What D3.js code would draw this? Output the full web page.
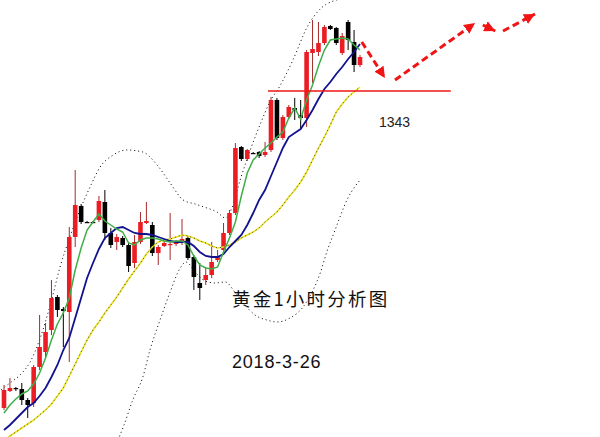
<!DOCTYPE html>
<html><head><meta charset="utf-8">
<script src="https://cdn.jsdelivr.net/npm/d3@7"></script>
<style>html,body{margin:0;padding:0;background:#fff;} svg{display:block}</style>
</head><body>
<svg id="chart" width="600" height="437"></svg>
<script>
// ---- data (hourly gold candles, prices) ----
const opens  = [1311.3,1313.0,1313.3,1313.2,1312.1,1311.8,1315.4,1316.9,1319.1,1322.4,1321.2,1320.9,1328.4,1331.5,1329.9,1329.9,1330.1,1331.9,1328.8,1327.9,1328.3,1327.6,1325.8,1327.9,1329.8,1329.6,1326.8,1327.5,1327.6,1327.7,1327.8,1328.3,1326.4,1323.8,1324.1,1324.6,1326.1,1327.1,1328.8,1330.8,1337.4,1336.2,1336.8,1336.9,1336.6,1337.1,1342.1,1338.3,1340.4,1341.3,1340.6,1340.3,1346.8,1346.9,1347.8,1349.5,1349.3,1346.8,1349.9,1347.9,1345.6];
const highs  = [1313.6,1314.3,1313.4,1313.8,1312.3,1315.6,1320.6,1319.8,1324.1,1322.6,1321.4,1329.4,1335.1,1331.7,1330.0,1330.0,1332.5,1333.1,1329.3,1328.7,1328.5,1327.8,1328.6,1330.9,1331.9,1329.9,1327.6,1328.0,1330.8,1328.1,1330.2,1328.5,1326.6,1325.8,1325.4,1327.9,1327.1,1329.8,1331.1,1337.8,1337.5,1337.2,1336.9,1337.0,1337.9,1342.4,1342.3,1340.6,1341.6,1342.3,1342.1,1347.1,1350.1,1349.9,1349.6,1349.6,1349.4,1348.8,1350.1,1349.1,1346.6];
const lows   = [1311.1,1312.9,1313.0,1311.6,1310.3,1311.4,1315.1,1316.3,1318.6,1320.4,1317.4,1315.9,1327.4,1329.7,1329.8,1329.8,1329.9,1328.1,1327.3,1327.1,1327.4,1324.9,1325.3,1327.7,1329.7,1326.5,1325.6,1327.4,1326.1,1327.5,1327.6,1326.1,1323.1,1322.1,1323.6,1324.3,1325.9,1326.9,1328.6,1330.6,1336.0,1336.0,1336.7,1336.3,1336.4,1336.9,1338.1,1338.1,1340.2,1340.1,1339.3,1339.4,1343.8,1346.5,1347.6,1349.1,1347.6,1346.6,1347.1,1344.9,1345.4];
const closes = [1313.1,1313.3,1313.2,1312.1,1311.6,1315.4,1317.4,1318.9,1322.3,1321.1,1321.0,1328.4,1331.6,1329.9,1329.9,1329.9,1332.0,1328.8,1327.6,1328.4,1327.6,1325.5,1327.9,1329.9,1330.0,1326.8,1327.4,1327.8,1327.7,1327.9,1328.2,1326.3,1324.4,1323.3,1324.6,1325.9,1326.4,1328.8,1330.8,1337.3,1336.2,1337.1,1336.8,1336.5,1336.9,1342.1,1338.3,1340.4,1341.4,1341.1,1340.3,1346.9,1347.2,1347.8,1349.4,1349.2,1347.8,1348.5,1348.1,1345.6,1346.4];

// moving averages (one value per candle)
const maFast = [1310.8,1311.6,1312.2,1312.7,1313.0,1313.7,1314.8,1316.3,1318.1,1319.7,1320.8,1322.3,1325.1,1327.3,1329.1,1329.9,1330.7,1330.0,1329.6,1329.2,1328.9,1327.8,1327.6,1328.1,1328.3,1328.3,1328.2,1328.0,1327.9,1328.0,1328.0,1327.6,1326.5,1325.6,1325.3,1325.2,1325.4,1326.9,1328.3,1329.9,1332.5,1334.8,1336.1,1336.7,1337.3,1337.8,1338.4,1338.9,1340.3,1341.3,1340.2,1342.1,1343.6,1345.5,1347.1,1348.1,1348.2,1348.3,1348.2,1347.6,1347.1];
const maMid  = [1309.1,1309.6,1310.2,1310.8,1311.4,1311.8,1312.5,1313.3,1314.4,1315.6,1317.1,1318.3,1320.3,1322.3,1324.3,1325.8,1327.2,1328.3,1328.8,1329.3,1329.4,1329.1,1328.8,1328.7,1328.7,1328.6,1328.4,1328.2,1328.0,1327.9,1327.9,1327.9,1327.5,1326.9,1326.5,1326.4,1326.4,1326.7,1327.4,1328.0,1328.6,1329.6,1330.8,1332.1,1333.1,1334.5,1335.9,1337.3,1338.4,1338.8,1339.2,1340.1,1341.1,1342.2,1343.2,1343.9,1344.7,1345.4,1346.2,1346.9,1347.7];
const maSlow = [1308.1,1308.5,1308.9,1309.3,1309.7,1310.1,1310.6,1311.1,1311.7,1312.5,1313.3,1314.5,1315.7,1316.9,1318.1,1319.1,1319.9,1320.8,1321.6,1322.4,1323.3,1324.2,1325.0,1325.8,1326.7,1327.4,1327.9,1328.1,1328.2,1328.4,1328.6,1328.5,1328.3,1328.0,1327.8,1327.5,1327.3,1327.4,1327.6,1327.9,1328.3,1328.6,1328.9,1329.3,1329.9,1330.4,1330.9,1331.6,1332.4,1333.1,1333.9,1334.9,1336.1,1337.3,1338.4,1339.6,1340.9,1341.7,1342.4,1342.9,1343.4];

// Bollinger bands (sampled along the candle index)
const upperX = [-1.0,1.0,2.7,4.4,6.1,7.8,9.4,11.1,12.8,14.5,16.2,18.4,20.7,23.4,25.8,28.0,30.2,32.2,34.2,35.9,37.3,38.4,39.8,41.5,43.2,44.8,46.5,48.7,51.1,53.3,55.5,58.3,60.9];
const upperY = [1312.9,1313.8,1314.6,1315.9,1318.3,1321.6,1325.3,1328.4,1331.1,1333.4,1335.4,1336.6,1337.1,1336.9,1335.6,1333.8,1332.1,1331.7,1331.3,1330.9,1330.3,1331.3,1334.1,1337.1,1339.7,1341.9,1343.5,1346.1,1349.4,1351.2,1352.0,1352.3,1352.3];
const lowerX = [19.2,20.1,21.7,23.4,24.6,26.3,28.0,29.7,30.7,32.2,33.9,35.6,37.3,38.9,40.6,42.3,44.3,46.0,48.2,50.4,52.1,53.3,54.4,55.8,57.8,60.0];
const lowerY = [1308.1,1309.4,1312.1,1314.4,1317.1,1320.1,1322.9,1325.3,1325.9,1324.9,1324.0,1323.8,1323.9,1322.9,1321.6,1320.6,1320.1,1319.9,1320.3,1321.4,1323.1,1324.8,1326.9,1329.1,1332.1,1334.1];

// annotations
const supportLevel = 1343;
const supportFrom = 44.5, supportTo = 75.3;
const arrowX = [[60.3,64.2],[65.9,79.4],[80.7,82.8],[84.1,89.5]];
const arrowY = [[1347.9,1344.3],[1344.1,1349.8],[1349.6,1349.0],[1349.0,1350.7]];
const titleText = "黄金1小时分析图";
const dateText = "2018-3-26";
const levelText = "1343";

// ---- drawing ----
const W = 600, H = 437;
const svg = d3.select("#chart");
const x = d3.scaleLinear().domain([0, 60]).range([4, 360]);
const y = d3.scaleLinear().domain([1308.4, 1352.1]).range([H, 0]);

const candles = opens.map((o, i) => ({i, o, h: highs[i], l: lows[i], c: closes[i]}));

// bands
const bandLine = d3.line().x(d => x(d[0])).y(d => y(d[1])).curve(d3.curveMonotoneX);
[[upperX, upperY], [lowerX, lowerY]].forEach(([xs, ys]) => {
  svg.append("path")
    .attr("d", bandLine(xs.map((v, k) => [v, ys[k]])))
    .attr("fill", "none").attr("stroke", "#000").attr("stroke-width", 1)
    .attr("stroke-dasharray", "1,3");
});

// candles
const bw = 4.6;
const g = svg.append("g");
g.selectAll("line.wick").data(candles).join("line")
  .attr("x1", d => x(d.i) ).attr("x2", d => x(d.i))
  .attr("y1", d => y(d.h)).attr("y2", d => y(d.l))
  .attr("stroke", d => d.c > d.o ? "#a52a2a" : "#000").attr("stroke-width", 1);
g.selectAll("rect.body").data(candles).join("rect")
  .attr("x", d => x(d.i) - bw / 2).attr("width", bw)
  .attr("y", d => y(Math.max(d.o, d.c)))
  .attr("height", d => Math.max(1.2, Math.abs(y(d.o) - y(d.c))))
  .attr("fill", d => d.c > d.o ? "#ec1c24" : "#000");

// moving averages
const maLine = d3.line().x((d, i) => x(i)).y(d => y(d));
svg.append("path").attr("d", maLine(maSlow)).attr("fill", "none")
  .attr("stroke", "#ece21e").attr("stroke-width", 1.6);
svg.append("path").attr("d", maLine(maSlow)).attr("fill", "none")
  .attr("stroke", "#333").attr("stroke-width", 0.9).attr("stroke-dasharray", "1,3");
svg.append("path").attr("d", maLine(maMid)).attr("fill", "none")
  .attr("stroke", "#12128f").attr("stroke-width", 1.8);
svg.append("path").attr("d", maLine(maFast)).attr("fill", "none")
  .attr("stroke", "#3fae49").attr("stroke-width", 1.5);

// support line
svg.append("line")
  .attr("x1", x(supportFrom)).attr("x2", x(supportTo))
  .attr("y1", y(supportLevel)).attr("y2", y(supportLevel))
  .attr("stroke", "#f01414").attr("stroke-width", 1.5);

// arrows
const defs = svg.append("defs");
defs.append("marker").attr("id", "ah").attr("markerUnits", "userSpaceOnUse")
  .attr("markerWidth", 12).attr("markerHeight", 11).attr("refX", 11).attr("refY", 5.5)
  .attr("orient", "auto")
  .append("path").attr("d", "M0,0 L11,5.5 L0,11 Z").attr("fill", "#f01414");
arrowX.forEach((ax, k) => {
  svg.append("line")
    .attr("x1", x(ax[0])).attr("y1", y(arrowY[k][0]))
    .attr("x2", x(ax[1])).attr("y2", y(arrowY[k][1]))
    .attr("stroke", "#f01414").attr("stroke-width", 3)
    .attr("stroke-dasharray", "7,4").attr("marker-end", "url(#ah)");
});

// texts
svg.append("text").attr("x", 379).attr("y", 127).text(levelText)
  .attr("font-family", "Liberation Sans, Arial, sans-serif").attr("font-size", 14).attr("fill", "#222");
svg.append("text").attr("x", 232).attr("y", 306).text(titleText)
  .attr("font-family", "Noto Sans CJK SC, sans-serif").attr("font-size", 18.5)
  .attr("letter-spacing", 2.2).attr("fill", "#111");
svg.append("text").attr("x", 232).attr("y", 368).text(dateText)
  .attr("font-family", "Liberation Sans, Arial, sans-serif").attr("font-size", 18)
  .attr("letter-spacing", 0.8).attr("fill", "#111");
</script>
</body></html>
